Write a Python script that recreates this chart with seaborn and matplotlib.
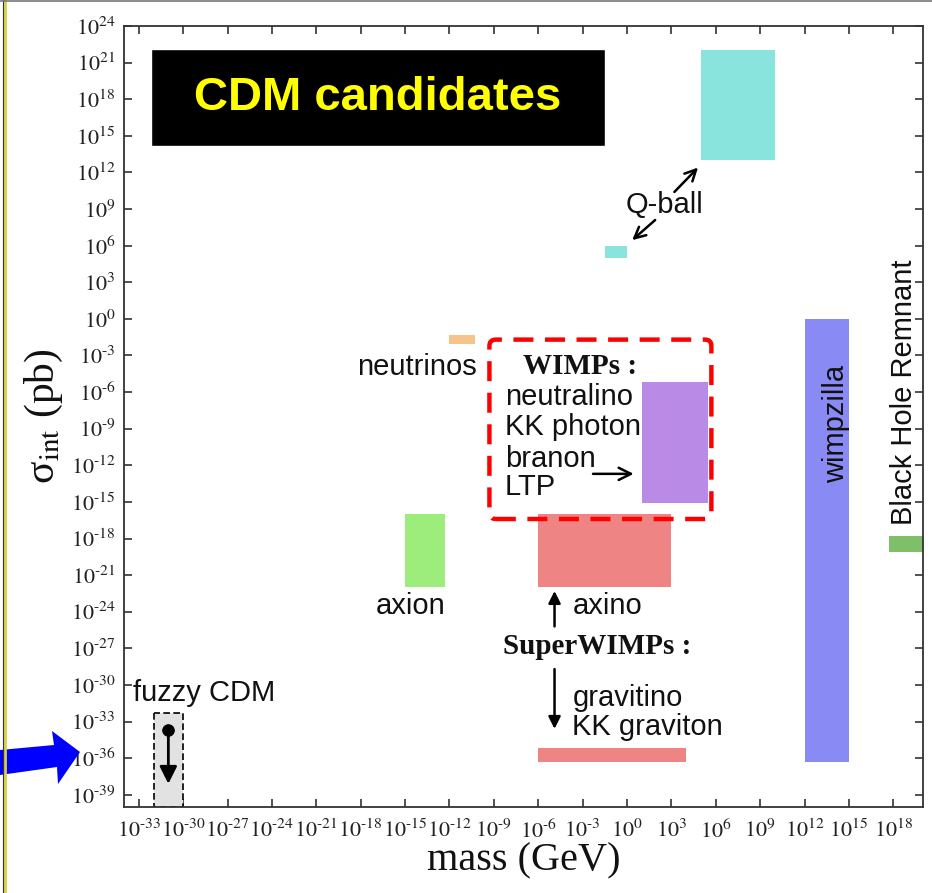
import matplotlib.pyplot as plt
import matplotlib.patches as mpatches
import seaborn as sns

sns.set_theme(style="ticks")
plt.rcParams['font.family'] = ['Liberation Sans', 'DejaVu Sans']
plt.rcParams['mathtext.fontset'] = 'stix'

# candidate regions as log10 of mass (GeV) and of sigma_int (pb)
names = ['Q-ball', 'Q-ball', 'neutrinos', 'axion', 'WIMPs', 'axino',
         'gravitino', 'wimpzilla', 'Black Hole Remnant']
mass_lo = [5, -1.5, -12, -15, 1, -6, -6, 12, 17.7]
mass_hi = [10, 0, -10.3, -12.3, 5.5, 3, 4, 15, 20]
sig_lo = [13, 5, -2.1, -22, -15.1, -22, -36.3, -36.3, -19.1]
sig_hi = [22, 6, -1.3, -16, -5.2, -16, -35.2, 0, -17.8]
colors = ['#88e4dc', '#88e4dc', '#f6c48a', '#9ced7c', '#b98ae6', '#ee8484',
          '#ee8484', '#8a8af5', '#7fbf6a']

# fuzzy CDM: upper bound box plus a point with downward arrow
fuzzy_mass = [-32, -30]
fuzzy_sig = [-40, -32.3]
fuzzy_pt = (-31, -33.7)
fuzzy_tip = -38.1

xtick_exp = list(range(-33, 19, 3))
ytick_exp = list(range(-39, 25, 3))


def p(e):
    return 10.0 ** e


def lab(e):
    # gnuplot style: plain hyphen in the exponent
    return rf'$10^{{\text{{{e}}}}}$'


fig = plt.figure(figsize=(9.32, 8.93), dpi=100)
ax = fig.add_axes([0.1330, 0.0963, 0.8573, 0.8746])
ax.set_xscale('log')
ax.set_yscale('log')
ax.set_xlim(1e-34, 1e20)
ax.set_ylim(1e-40, 1e24)

for x0, x1, y0, y1, c in zip(mass_lo, mass_hi, sig_lo, sig_hi, colors):
    ax.fill_between([p(x0), p(x1)], p(y0), p(y1), color=c, lw=0, zorder=2)

ax.fill_between([p(fuzzy_mass[0]), p(fuzzy_mass[1])], p(fuzzy_sig[0]),
                p(fuzzy_sig[1]), facecolor='#e2e2e2', edgecolor='black',
                linestyle=(0, (4, 2)), lw=1.2, zorder=2)
sns.scatterplot(x=[p(fuzzy_pt[0])], y=[p(fuzzy_pt[1])], color='black',
                s=70, ax=ax, zorder=4, edgecolor='black')


def arrow(x0, y0, x1, y1, style='-|>', lw=2, ms=22):
    ax.annotate('', xy=(p(x1), p(y1)), xytext=(p(x0), p(y0)),
                arrowprops=dict(arrowstyle=style, color='black', lw=lw,
                                mutation_scale=ms, shrinkA=0, shrinkB=0),
                zorder=5)


arrow(fuzzy_pt[0], fuzzy_pt[1], fuzzy_pt[0], fuzzy_tip, ms=26)
arrow(3.2, 10.4, 4.8, 12.4, style='->', lw=1.8, ms=20)
arrow(1.9, 8.1, 0.35, 6.45, style='->', lw=1.8, ms=20)
arrow(-2.3, -12.7, 0.45, -12.7, style='->', lw=1.8, ms=22)
arrow(-4.9, -25.2, -4.9, -22.3, lw=1.8, ms=18)
arrow(-4.9, -28.7, -4.9, -33.6, lw=1.8, ms=18)

fs = 21
sans = dict(fontsize=fs, color='#111111', zorder=6)
ax.text(p(2.5), p(9.3), 'Q-ball', ha='center', va='center', **sans)
ax.text(p(-14.2), p(-4.6), 'neutrinos', ha='center', va='baseline', **sans)
ax.text(p(-14.6), p(-24.2), 'axion', ha='center', va='baseline', **sans)
ax.text(p(-33.4), p(-31.3), 'fuzzy CDM', ha='left', va='baseline', **sans)
ax.text(p(-3.7), p(-24.2), 'axino', ha='left', va='baseline', **sans)
ax.text(p(-3.7), p(-31.7), 'gravitino', ha='left', va='baseline', **sans)
ax.text(p(-3.7), p(-34.1), 'KK graviton', ha='left', va='baseline', **sans)
for txt, yy in zip(['neutralino', 'KK photon', 'branon', 'LTP'],
                   [-7.05, -9.5, -12.1, -14.4]):
    ax.text(p(-8.27), p(yy), txt, ha='left', va='baseline', **sans)
ax.text(p(14.1), p(-8.6), 'wimpzilla', rotation=90, ha='center',
        va='center', **sans)
ax.text(p(18.7), p(-6.0), 'Black Hole Remnant', rotation=90, ha='center',
        va='center', **sans)

serif_b = dict(fontsize=fs, fontweight='bold', family='Liberation Serif',
               color='#111111', zorder=6)
ax.text(p(-7.05), p(-4.5), 'WIMPs :', ha='left', va='baseline', **serif_b)
ax.text(p(-8.4), p(-27.5), 'SuperWIMPs :', ha='left', va='baseline', **serif_b)

# red dashed WIMP box, corners given in data exponents
fig.canvas.draw()
to_axes = ax.transData + ax.transAxes.inverted()
(bx0, by0) = to_axes.transform((p(-9.3), p(-16.4)))
(bx1, by1) = to_axes.transform((p(5.7), p(-1.7)))
ax.add_patch(mpatches.FancyBboxPatch(
    (bx0, by0), bx1 - bx0, by1 - by0, boxstyle='round,pad=0,rounding_size=0.008',
    transform=ax.transAxes, fill=False, edgecolor='#ff0000', lw=3.2,
    linestyle=(0, (4.5, 2.6)), zorder=7))

# title box
ax.add_patch(mpatches.Rectangle((0.034, 0.846), 0.568, 0.1246,
                                transform=ax.transAxes, facecolor='black',
                                zorder=6))
ax.text(0.318, 0.908, 'CDM candidates', transform=ax.transAxes, ha='center',
        va='center', fontsize=34, fontweight='bold', color='#ffff00', zorder=7)

ax.set_xticks([p(e) for e in xtick_exp])
ax.set_xticklabels([lab(e) for e in xtick_exp])
ax.set_yticks([p(e) for e in ytick_exp])
ax.set_yticklabels([lab(e) for e in ytick_exp])
ax.minorticks_off()
ax.tick_params(which='major', direction='in', length=6, width=1.1,
               top=True, right=True, labelsize=16, colors='#222222')
ax.tick_params(axis='x', pad=9)
ax.tick_params(axis='y', pad=6)
for sp in ax.spines.values():
    sp.set_linewidth(1.3)
    sp.set_color('#333333')

ax.set_xlabel('mass (GeV)', family='Liberation Serif', fontsize=29,
              labelpad=0, color='#111111')
ax.set_ylabel(r'σ$_{\rm int}$ (pb)', family='Liberation Serif',
              fontsize=30, labelpad=4, color='#111111')

# blue pointer at the 10^-36 label (figure pixels)
pts = [(0, 750), (54, 745), (52, 731), (80, 752), (58, 784), (57, 767), (0, 775)]
fig.add_artist(mpatches.Polygon([(px / 932, 1 - py / 893) for px, py in pts],
                                closed=True, facecolor='#0000ff', lw=0,
                                transform=fig.transFigure))
# slide frame remnants
fig.add_artist(plt.Line2D([4.5 / 932, 4.5 / 932], [0, 1], color='#d8d040',
                          lw=2, transform=fig.transFigure))
fig.add_artist(plt.Line2D([3 / 932, 3 / 932], [0, 1], color='#333333',
                          lw=0.8, transform=fig.transFigure))
fig.add_artist(plt.Line2D([0, 1], [1 - 1 / 893, 1 - 1 / 893], color='#777777',
                          lw=1.2, transform=fig.transFigure))

fig.savefig('out.png', dpi=100)
